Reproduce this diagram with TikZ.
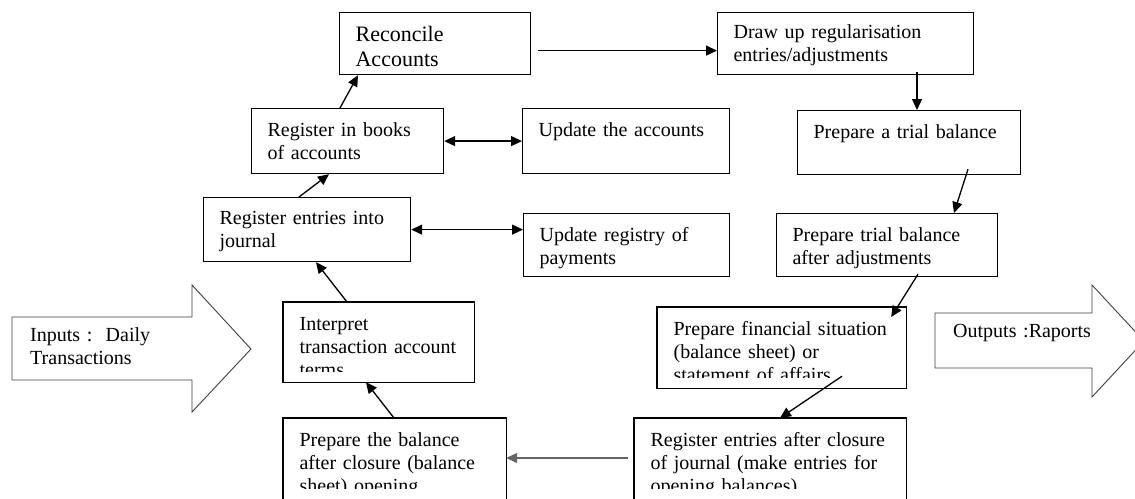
\documentclass[tikz,border=0pt]{standalone}
\usepackage{fontspec}
\setmainfont{Liberation Serif}
\usepackage{tikz}
\usetikzlibrary{arrows.meta}

\begin{document}
\begin{tikzpicture}[x=1pt, y=-1pt,
            stage/.style 2 args={draw, line width=1.2pt, anchor=north west, inner xsep=16pt, inner ysep=0pt,
                text width=#1, text height=28pt, text depth=#2, align=left, font=\fontsize{20}{23}\selectfont},
            note/.style={anchor=north west, inner xsep=18pt, inner ysep=0pt, text width=150pt,
                text height=24pt, align=left, font=\fontsize{20}{23}\selectfont},
            flow/.style={line width=1.3pt, -{Triangle[length=11pt,width=10pt]}},
            both/.style={line width=1.3pt, {Triangle[length=11pt,width=10pt]}-{Triangle[length=11pt,width=10pt]}},
            outline/.style={line width=0.9pt, draw=black!75}]
        \useasboundingbox (0,0) rectangle (1135,498);
        \fill[white] (0,0) rectangle (1135,498);

        % top row
        \node[stage={159pt}{33pt}, text height=29pt, font=\fontsize{22}{25}\selectfont] (recon) at (339,12) {Reconcile\\Accounts};
        \node[stage={224pt}{36pt}, text height=26pt] (drawup) at (717,12) {Draw up regularisation\\entries/adjustments};

        \node[stage={160pt}{37pt}] (books) at (251,108) {Register in books\\of accounts};
        \node[stage={175pt}{37pt}] (upacc) at (522,108) {Update the accounts};
        \node[stage={191pt}{36pt}] (trial) at (797,110) {Prepare a trial balance};

        \node[stage={175pt}{37pt}, text height=27pt] (journal) at (203,197) {Register entries into\\journal};
        \node[stage={174pt}{35pt}] (upreg) at (523,213) {Update registry of\\payments};
        \node[stage={189pt}{35pt}] (trialadj) at (776,213) {Prepare trial balance\\after adjustments};

        % boxes whose last line is cut off
        \begin{scope}
            \clip (280,299) rectangle (476,371);
            \node[stage={158pt}{51pt}, draw=none] (interp) at (283,302) {Interpret\\transaction account\\terms};
        \end{scope}
        \draw[line width=1.2pt] (interp.north west) rectangle (interp.south east);

        \begin{scope}
            \clip (654,304) rectangle (908,377);
            \node[stage={216pt}{52pt}, draw=none] (fin) at (657,307) {Prepare financial situation\\(balance sheet) or\\statement of affairs};
        \end{scope}
        \draw[line width=1.2pt] (fin.north west) rectangle (fin.south east);

        \begin{scope}
            \clip (280,415) rectangle (910,488);
            \node[stage={190pt}{56pt}, draw=none] (prepbal) at (283,418) {Prepare the balance\\after closure (balance\\sheet) opening};
            \node[stage={239pt}{56pt}, draw=none] (regclos) at (634,418) {Register entries after closure\\of journal (make entries for\\opening balances)};
        \end{scope}
        \draw[line width=1.2pt] (prepbal.south west) -- (prepbal.north west) -- (prepbal.north east) -- (prepbal.south east);
        \draw[line width=1.2pt] (regclos.south west) -- (regclos.north west) -- (regclos.north east) -- (regclos.south east);

        % inputs and outputs
        \draw[outline] (12,317) -- (192,317) -- (192,285) -- (251,349) -- (192,412) -- (192,380) -- (12,380) -- cycle;
        \node[note] (inputs) at (12,317) {Inputs :\ \ Daily\\Transactions};
        \draw[outline] (935,313) -- (1092,313) -- (1092,285) -- (1144,341) -- (1092,397) -- (1092,368) -- (935,368) -- cycle;
        \node[note] (outputs) at (935,313) {Outputs :Raports};

        % connectors
        \draw[flow] ([xshift=89pt]books.north west) -- ([xshift=19pt]recon.south west);
        \draw[flow] ([xshift=96pt]journal.north west) -- ([xshift=78pt]books.south west);
        \draw[both] (books.east) -- (books.east -| upacc.west);
        \draw[both] (journal.east) -- (journal.east -| upreg.west);
        \draw[flow] ([xshift=64pt]interp.north west) -- ([xshift=113pt]journal.south west);
        \draw[flow] ([xshift=111pt]prepbal.north west) -- ([xshift=83pt]interp.south west);

        \coordinate (across) at ([xshift=7pt,yshift=-7pt]recon.east);
        \draw[flow] (across) -- (across -| drawup.west);
        \draw[flow] ([xshift=200pt,yshift=3pt]drawup.south west) -- ([xshift=120pt]trial.north west);
        \draw[flow] ([xshift=171pt,yshift=6pt]trial.south west) -- ([xshift=178pt]trialadj.north west);
        \draw[flow] ([xshift=142pt,yshift=3pt]trialadj.south west) -- ([xshift=-15pt,yshift=-10pt]fin.north east);
        \draw[flow] ([xshift=185pt,yshift=12pt]fin.south west) -- ([xshift=146pt]regclos.north west);

        \coordinate (back) at ([xshift=-6pt,yshift=-40pt]regclos.north west);
        \draw[flow, draw=black!60, fill=black] (back) -- (back -| prepbal.east);
    \end{tikzpicture}
\end{document}
